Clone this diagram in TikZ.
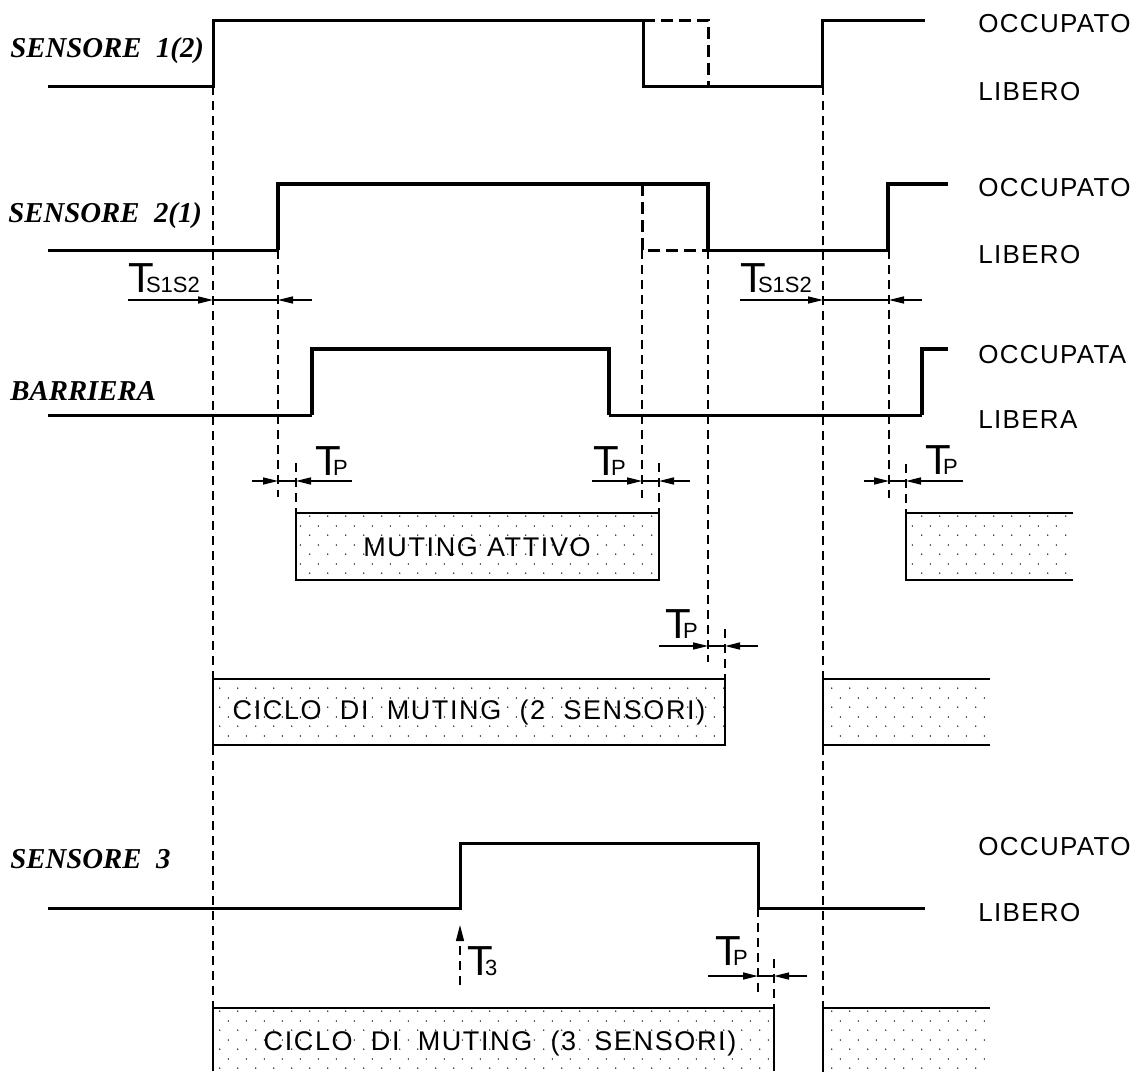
\documentclass[tikz,border=0pt]{standalone}
\usepackage{fontspec}
\setsansfont{Liberation Sans}
\newfontfamily\labfont[LetterSpace=5]{Liberation Sans}
\newfontfamily\boxfont[LetterSpace=6]{Liberation Sans}
\newfontfamily\namefont{Liberation Serif}
\usetikzlibrary{arrows.meta,patterns}
\pgfdeclarepatternformonly{sparsedots}{\pgfpointorigin}{\pgfqpoint{9pt}{9.5pt}}{\pgfqpoint{9pt}{9.5pt}}{%
  \pgfpathcircle{\pgfqpoint{2pt}{2pt}}{0.4pt}%
  \pgfpathcircle{\pgfqpoint{6.5pt}{6.75pt}}{0.4pt}%
  \pgfusepath{fill}}
\newcommand{\tsub}[1]{{\sffamily\fontsize{21}{21}\selectfont T\kern-4pt\fontsize{11}{11}\selectfont #1}}
\begin{document}
\begin{tikzpicture}[x=0.5pt,y=-0.5pt,
    sig/.style={line width=1.5pt},
    sigbold/.style={line width=2pt},
    sigdash/.style={line width=1.5pt,dash pattern=on 6pt off 3pt},
    guide/.style={line width=0.6pt,dash pattern=on 4.5pt off 3pt},
    dim/.style={line width=0.7pt},
    dimtip/.style={dim,-{Triangle[length=7.5pt,width=3.5pt]}},
    boxfill/.style={pattern=sparsedots},
    boxline/.style={line width=0.9pt},
    statelab/.style={anchor=base west,inner sep=0pt,font=\labfont\fontsize{13}{15}\selectfont},
    signame/.style={anchor=base west,inner sep=0pt,font=\namefont\bfseries\itshape\fontsize{14.4}{16}\selectfont},
    boxtext/.style={font=\boxfont\fontsize{13.5}{15}\selectfont},
    tlab/.style={anchor=base west,inner sep=0pt}]
            \useasboundingbox (0,0) rectangle (1144,1071);
            \foreach \x/\a/\b in {213/86/1071, 823/86/1071, 278/250/497, 296/463/513,
                642/250/498, 659/463/513, 708/250/662, 725/629/679, 889/250/498,
                906/464/513, 758/908/992, 774/959/1008} {
                \draw[guide] (\x,\a) -- (\x,\b);
            }
            \draw[sig] (48,86) -- (213,86) -- (213,20) -- (643,20) -- (643,86) -- (822,86) -- (822,20) -- (925,20);
            \draw[sigdash] (643,20) -- (708,20) -- (708,86);
            \draw[sig] (48,250) -- (278,250);
            \draw[sigbold] (278,250) -- (278,184) -- (708,184) -- (708,250);
            \draw[sig] (708,250) -- (888,250);
            \draw[sigbold] (888,250) -- (888,184) -- (948,184);
            \draw[sigdash] (642,184) -- (642,250) -- (708,250);
            \draw[sig] (48,415) -- (312,415);
            \draw[sigbold] (312,415) -- (312,349) -- (609,349) -- (609,415);
            \draw[sig] (609,415) -- (922,415);
            \draw[sigbold] (922,415) -- (922,349) -- (948,349);
            \draw[sig] (48,908) -- (460,908) -- (460,843) -- (758,843) -- (758,908) -- (925,908);
            \node[signame] (s1name) at (10,57) {SENSORE\ \ 1(2)};
            \node[signame] (s2name) at (8,222) {SENSORE\ \ 2(1)};
            \node[signame] (barname) at (10,400) {BARRIERA};
            \node[signame] (s3name) at (10,868) {SENSORE\ \ 3};
            \foreach \y/\t in {32/OCCUPATO, 100/LIBERO, 196/OCCUPATO, 263/LIBERO,
                363/OCCUPATA, 428/LIBERA, 855/OCCUPATO, 921/LIBERO} {
                \node[statelab] at (978,\y) {\t};
            }
            \foreach \a/\b/\c/\d/\y in {128/213/278/312/300, 740/823/889/922/300,
                252/278/296/352/481, 592/642/659/690/481, 864/889/906/963/481,
                659/708/725/758/646, 708/758/774/807/976} {
                \draw[dimtip] (\a,\y) -- (\b,\y);
                \draw[dim] (\b,\y) -- (\c,\y);
                \draw[dimtip] (\d,\y) -- (\c,\y);
            }
            \node[tlab] (ts1) at (128,292) {\tsub{S1S2}};
            \node[tlab] (ts2) at (740,292) {\tsub{S1S2}};
            \node[tlab] (tp1) at (315,475) {\tsub{P}};
            \node[tlab] (tp2) at (593,475) {\tsub{P}};
            \node[tlab] (tp3) at (925,474) {\tsub{P}};
            \node[tlab] (tp4) at (665,638) {\tsub{P}};
            \node[tlab] (tp5) at (715,965) {\tsub{P}};
            \draw[guide,-{Triangle[length=8pt,width=4pt]}] (460,985) -- (460,925);
            \node[tlab] (t3) at (467,975) {\tsub{3}};
            \fill[boxfill] (296,513) rectangle (659,580);
            \draw[boxline] (296,513) rectangle (659,580);
            \node[boxtext] (mutatt) at (477,547) {MUTING\ ATTIVO};
            \fill[boxfill] (213,679) rectangle (725,745);
            \draw[boxline] (213,679) rectangle (725,745);
            \node[boxtext] (ciclo2) at (469,712) {CICLO\ \ DI\ \ MUTING\ \ (2\ \ SENSORI)};
            \fill[boxfill] (213,1008) rectangle (774,1071);
            \draw[boxline] (213,1071) -- (213,1008) -- (774,1008) -- (774,1071);
            \node[boxtext] (ciclo3) at (500,1043) {CICLO\ \ DI\ \ MUTING\ \ (3\ \ SENSORI)};
            \foreach \x/\a/\b/\c in {906/513/580/1073, 823/679/745/990, 823/1008/1080/990} {
                \fill[boxfill] (\x,\a) rectangle (\c,\b);
                \draw[boxline] (\c,\a) -- (\x,\a) -- (\x,\b) -- (\c,\b);
            }
\end{tikzpicture}
\end{document}
